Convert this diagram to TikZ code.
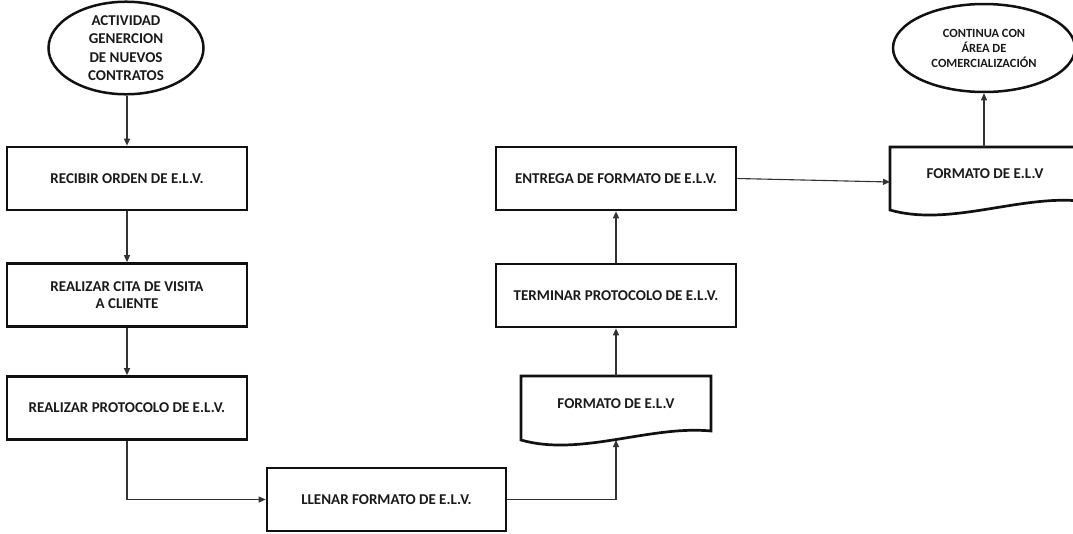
\documentclass[tikz,border=0pt]{standalone}
\usepackage{fontspec}
\setmainfont{Carlito}
\usetikzlibrary{shapes.geometric,arrows.meta}
\definecolor{txt}{HTML}{1A1A1A}
\definecolor{edge}{HTML}{111111}
\definecolor{linec}{HTML}{333333}
\begin{document}
\begin{tikzpicture}[x=1pt,y=-1pt,
  proc/.style={draw=edge, line width=2.7pt, minimum width=240pt, minimum height=63pt,
    inner sep=0pt, align=center, text=txt, font=\bfseries\fontsize{15}{17}\selectfont},
  term/.style={draw=edge, ellipse, line width=2.5pt, inner sep=0pt, align=center, text=txt},
  doc/.style={draw=edge, line width=2.7pt, line join=miter},
  doctext/.style={text=txt, font=\bfseries\fontsize{15}{17}\selectfont},
  link/.style={draw=linec, line width=1.1pt, -{Triangle[length=7pt,width=6pt]}}]
\useasboundingbox (0,0) rectangle (1073,533);

% start and end terminals
\node[term, minimum width=155pt, minimum height=88pt,
      font=\bfseries\fontsize{15}{18.5}\selectfont] (e1) at (126,48)
  {ACTIVIDAD\\GENERCION\\DE NUEVOS\\CONTRATOS};
\node[term, minimum width=182pt, minimum height=88pt,
      font=\bfseries\fontsize{12.5}{15}\selectfont] (e2) at (984,48)
  {CONTINUA CON\\ÁREA DE\\COMERCIALIZACIÓN};

% process steps
\node[proc] (b1) at (127,178.5) {RECIBIR ORDEN DE E.L.V.};
\node[proc] (b2) at (127,295) {REALIZAR CITA DE VISITA\\A CLIENTE};
\node[proc] (b3) at (127,408) {REALIZAR PROTOCOLO DE E.L.V.};
\node[proc, minimum width=239pt] (b4) at (386.5,499.5) {LLENAR FORMATO DE E.L.V.};
\node[proc] (b5) at (616,295.5) {TERMINAR PROTOCOLO DE E.L.V.};
\node[proc] (b6) at (616,178.5) {ENTREGA DE FORMATO DE E.L.V.};

% document shapes
\draw[doc] (521,376) -- (711,376) -- (711,431)
  .. controls (650,425) and (580,457) .. (521,440) -- cycle;
\node[doctext] (d1) at (616,404) {FORMATO DE E.L.V};
\coordinate (d1top) at (616,376);
\coordinate (d1bot) at (616,440);

\draw[doc] (890,147) -- (1080,147) -- (1080,201)
  .. controls (1019,195) and (949,227) .. (890,210) -- cycle;
\node[doctext] (d2) at (985,174) {FORMATO DE E.L.V};
\coordinate (d2top) at (984,147);
\coordinate (d2left) at (890,182);

% connectors
\draw[link] (e1.south -| b1) -- (b1);
\draw[link] (b1) -- (b2);
\draw[link] (b2) -- (b3);
\draw[link] (b3.south) |- (b4.west);
\draw[link] (b4.east) -| (d1bot);
\draw[link] (d1top) -- (b5.south);
\draw[link] (b5) -- (b6);
\draw[link] (b6.east) -- (d2left);
\draw[link] (d2top) -- (e2.south);
\end{tikzpicture}
\end{document}
